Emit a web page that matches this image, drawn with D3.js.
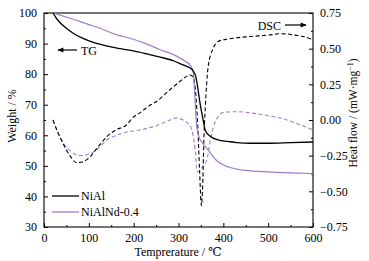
<!DOCTYPE html>
<html><head><meta charset="utf-8">
<script src="https://cdn.jsdelivr.net/npm/d3@7"></script>
<style>body{margin:0;background:#fff}svg{display:block}svg text{font-family:'Liberation Serif','Times New Roman','DejaVu Serif',serif !important;fill:#000}</style>
</head><body><svg id="c" width="369" height="261" font-family="Liberation Serif"></svg>
<script>
const tgTempNiAl = [20, 28, 36, 50, 65, 87, 110, 130, 147, 175, 199, 230, 259, 290, 310, 326, 333, 338, 342, 348, 355, 360, 370, 388, 410, 430, 460, 500, 550, 600];
const tgNiAl     = [100, 98.2, 96.8, 95.0, 93.4, 91.7, 90.4, 89.6, 89.0, 88.2, 87.6, 86.6, 85.6, 84.3, 83.0, 82.0, 81.0, 79.5, 76.5, 70.5, 65.0, 61.5, 59.8, 58.5, 58.0, 57.6, 57.4, 57.4, 57.6, 57.8];
const tgTempNd   = [20, 60, 100, 125, 160, 199, 230, 259, 290, 315, 328, 333, 336, 339, 342, 347, 355, 366, 383, 400, 419, 450, 500, 550, 600];
const tgNd       = [100, 98.2, 96.2, 95.0, 93.0, 91.4, 89.8, 88.0, 86.3, 84.2, 82.6, 80.5, 74, 66, 61.5, 59.0, 57.2, 55.2, 52.0, 50.3, 49.3, 48.5, 48.0, 47.7, 47.5];
const dscTempNiAl = [20, 30, 45, 60, 73, 85, 103, 120, 140, 160, 184, 199, 214, 230, 251, 280, 303, 315, 326, 333, 338, 343, 347, 351, 354, 357, 360, 366, 377, 388, 405, 426, 460, 500, 531, 560, 585, 600];
const dscNiAl     = [0.0, -0.08, -0.18, -0.26, -0.30, -0.295, -0.257, -0.19, -0.117, -0.07, -0.035, 0.02, 0.05, 0.09, 0.13, 0.21, 0.27, 0.30, 0.315, 0.30, 0.20, -0.05, -0.35, -0.60, -0.45, -0.10, 0.10, 0.37, 0.50, 0.55, 0.565, 0.575, 0.585, 0.595, 0.605, 0.595, 0.58, 0.56];
const dscTempNd  = [20, 30, 45, 60, 80, 100, 117, 140, 160, 177, 214, 250, 281, 295, 310, 320, 326, 332, 337, 342, 350, 358, 364, 371, 376, 381, 390, 397, 411, 430, 460, 500, 527, 560, 600];
const dscNd      = [0.0, -0.08, -0.17, -0.22, -0.25, -0.24, -0.21, -0.14, -0.11, -0.09, -0.07, -0.04, 0.0, 0.015, 0.0, -0.02, -0.04, -0.10, -0.20, -0.365, -0.34, -0.31, -0.27, -0.14, -0.07, -0.02, 0.03, 0.05, 0.056, 0.058, 0.05, 0.03, 0.014, -0.02, -0.07];
const xTicks = [0, 100, 200, 300, 400, 500, 600];
const wTicks = [30, 40, 50, 60, 70, 80, 90, 100];
const hTicks = [-0.75, -0.5, -0.25, 0, 0.25, 0.5, 0.75];
const seriesNames = ["NiAl", "NiAlNd-0.4"];

const black = "#000", purple = "#a07ccc";
const FONT = "'Liberation Serif','Times New Roman',serif";
const L = 44, R = 313, T = 13, B = 227;
const svg = d3.select("#c");
const x = d3.scaleLinear().domain([0, 600]).range([L, R]);
const yW = d3.scaleLinear().domain([30, 100]).range([B, T]);
const yH = d3.scaleLinear().domain([-0.75, 0.75]).range([B, T]);

svg.append("clipPath").attr("id","cp").append("rect").attr("x",L).attr("y",T).attr("width",R-L).attr("height",B-T);

const fmtH = d => d === 0 ? "0.00" : (d < 0 ? "\u2212" : "") + Math.abs(d).toFixed(2);
function styleAxis(g){ g.attr("font-family", FONT).attr("font-size", 12); g.select(".domain").remove(); g.selectAll("line").attr("stroke","#000"); }

const minorX = d3.range(50, 600, 100);
svg.append("g").attr("transform",`translate(0,${B})`).call(d3.axisBottom(x).tickValues(minorX).tickSize(-2).tickFormat("")).call(styleAxis);
svg.append("g").attr("transform",`translate(0,${B})`).call(d3.axisBottom(x).tickValues(xTicks).tickSize(-4).tickPadding(6).tickFormat(d3.format("d"))).call(styleAxis);

svg.append("g").attr("transform",`translate(${L},0)`).call(d3.axisLeft(yW).tickValues(d3.range(35, 100, 10)).tickSize(-2).tickFormat("")).call(styleAxis);
svg.append("g").attr("transform",`translate(${L},0)`).call(d3.axisLeft(yW).tickValues(wTicks).tickSize(-4).tickPadding(7).tickFormat(d3.format("d"))).call(styleAxis);

svg.append("g").attr("transform",`translate(${R},0)`).call(d3.axisRight(yH).tickValues([-0.625,-0.375,-0.125,0.125,0.375,0.625]).tickSize(-2).tickFormat("")).call(styleAxis);
svg.append("g").attr("transform",`translate(${R},0)`).call(d3.axisRight(yH).tickValues(hTicks).tickSize(-4).tickPadding(7).tickFormat(fmtH)).call(styleAxis);

svg.append("rect").attr("x",L).attr("y",T).attr("width",R-L).attr("height",B-T).attr("fill","none").attr("stroke","#000").attr("stroke-width",1.1);

const pl = svg.append("g").attr("clip-path","url(#cp)");
function line(xs, ys, ysc){ return d3.line().x((d,i)=>x(xs[i])).y(d=>ysc(d)).curve(d3.curveMonotoneX)(ys); }

pl.append("path").attr("d", line(dscTempNd, dscNd, yH)).attr("fill","none").attr("stroke",purple).attr("stroke-width",1.1).attr("stroke-dasharray","4,2.5");
pl.append("path").attr("d", line(dscTempNiAl, dscNiAl, yH)).attr("fill","none").attr("stroke",black).attr("stroke-width",1.1).attr("stroke-dasharray","4,2.5");
pl.append("path").attr("d", line(tgTempNd, tgNd, yW)).attr("fill","none").attr("stroke",purple).attr("stroke-width",1.2);
pl.append("path").attr("d", line(tgTempNiAl, tgNiAl, yW)).attr("fill","none").attr("stroke",black).attr("stroke-width",1.3);

const defs = svg.append("defs");
defs.append("marker").attr("id","ah").attr("viewBox","0 0 10 10").attr("refX",9).attr("refY",5).attr("markerWidth",6).attr("markerHeight",5).attr("orient","auto")
  .append("path").attr("d","M0,1 L10,5 L0,9 Z").attr("fill","#000");

const ann = svg.append("g").attr("font-family", FONT).attr("font-size", 12);
ann.append("line").attr("x1",77).attr("y1",50).attr("x2",58).attr("y2",50).attr("stroke","#000").attr("stroke-width",1.2).attr("marker-end","url(#ah)");
ann.append("text").attr("x",81).attr("y",54.5).text("TG");
ann.append("line").attr("x1",285).attr("y1",25).attr("x2",306).attr("y2",25).attr("stroke","#000").attr("stroke-width",1.2).attr("marker-end","url(#ah)");
ann.append("text").attr("x",281).attr("y",29.5).attr("text-anchor","end").text("DSC");

[[black,196],[purple,212]].forEach((c,i)=>{
  ann.append("line").attr("x1",52).attr("x2",79).attr("y1",c[1]).attr("y2",c[1]).attr("stroke",c[0]).attr("stroke-width",1.3);
  ann.append("text").attr("x",81).attr("y",c[1]+4).text(seriesNames[i]);
});

ann.append("text").attr("x",178).attr("y",256).attr("text-anchor","middle").text("Temprerature / \u2103");
ann.append("text").attr("transform","translate(16,116) rotate(-90)").attr("text-anchor","middle").text("Weight / %");
const rt = ann.append("text").attr("transform","translate(357,113) rotate(-90)").attr("text-anchor","middle").attr("font-size",11.5);
rt.append("tspan").text("Heat flow / (mW\u00b7mg");
rt.append("tspan").attr("dy",-4).attr("font-size",8).text("\u22121");
rt.append("tspan").attr("dy",4).text(")");
</script></body></html>
